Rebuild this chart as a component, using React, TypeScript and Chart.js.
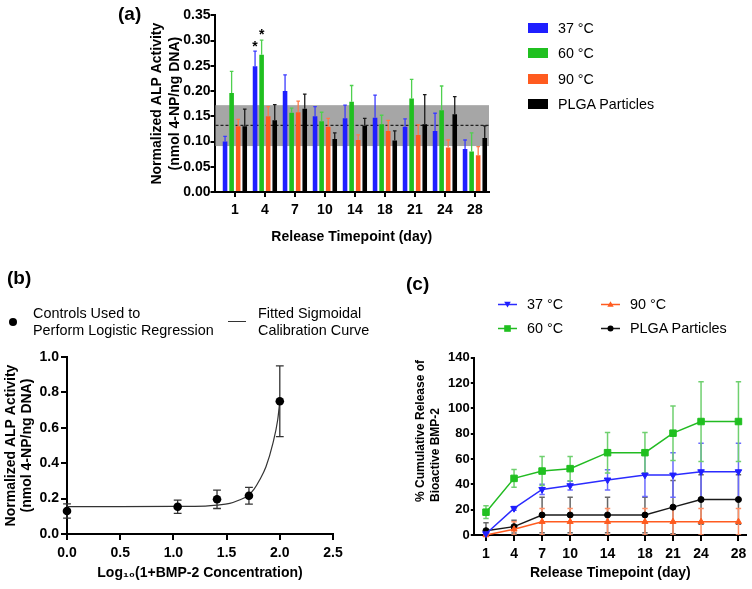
import React, { useEffect, useRef } from 'react';
import { Chart, registerables } from 'chart.js';

Chart.register(...registerables);

const FONT = "'Liberation Sans', Arial, Helvetica, sans-serif";
Chart.defaults.font.family = FONT;
Chart.defaults.color = '#000';

// ---------- Panel (a) data ----------
const dayLabels = ['1', '4', '7', '10', '14', '18', '21', '24', '28'];
const seriesNames = ['37 °C', '60 °C', '90 °C', 'PLGA Particles'];
const alp37 = [0.100, 0.249, 0.200, 0.150, 0.146, 0.147, 0.129, 0.121, 0.085];
const alp37Err = [0.010, 0.030, 0.032, 0.019, 0.026, 0.045, 0.016, 0.035, 0.018];
const alp60 = [0.196, 0.272, 0.157, 0.140, 0.179, 0.134, 0.185, 0.162, 0.080];
const alp60Err = [0.043, 0.029, 0.009, 0.018, 0.032, 0.018, 0.038, 0.048, 0.037];
const alp90 = [0.130, 0.150, 0.158, 0.129, 0.103, 0.121, 0.113, 0.088, 0.073];
const alp90Err = [0.014, 0.019, 0.022, 0.017, 0.010, 0.021, 0.020, 0.015, 0.017];
const alpPLGA = [0.130, 0.142, 0.165, 0.105, 0.131, 0.102, 0.134, 0.154, 0.107];
const alpPLGAErr = [0.034, 0.031, 0.029, 0.012, 0.015, 0.019, 0.059, 0.035, 0.024];
const bandLow = 0.091;
const bandHigh = 0.172;
const controlMean = 0.132;
const starMarks = [{ series: 0, index: 1 }, { series: 1, index: 1 }];

// ---------- Panel (b) data ----------
const calX = [0, 1.04, 1.41, 1.71, 2.0];
const calY = [0.13, 0.154, 0.196, 0.216, 0.75];
const calErr = [0.04, 0.037, 0.052, 0.047, 0.2];
const fitX = [0, 0.5, 1.0, 1.3, 1.41, 1.53, 1.62, 1.7, 1.76, 1.81, 1.87, 1.935, 1.98, 2.0];
const fitY = [0.155, 0.155, 0.156, 0.158, 0.163, 0.173, 0.192, 0.216, 0.255, 0.305, 0.38, 0.512, 0.644, 0.75];

// ---------- Panel (c) data ----------
const releaseDays = [1, 4, 7, 10, 14, 18, 21, 24, 28];
const rel37 = [1, 21, 36, 39, 43.5, 47.4, 47.4, 50, 50];
const rel37Err = [1, 1.5, 4, 3.5, 8, 17, 17.5, 22.5, 22.5];
const rel60 = [18, 44.7, 50.5, 52.4, 65, 65, 80.4, 89.6, 89.6];
const rel60Err = [5, 7, 11.5, 9.5, 16, 16, 21.5, 31.5, 31.5];
const rel90 = [0, 4.5, 10.5, 10.5, 10.5, 10.5, 10.5, 10.5, 10.5];
const rel90Err = [0, 6, 10.5, 10.5, 10.5, 10.5, 10.5, 10.5, 10.5];
const relPLGA = [3.4, 6.6, 15.8, 15.8, 15.8, 15.8, 22, 28, 28];
const relPLGAErr = [6.3, 5, 14, 14, 14, 14, 21, 19.5, 19.5];

const barColors = ['#1f1fff', '#20c020', '#ff5b1f', '#000000'];
const barErrColors = ['#3b3bff', '#4fd04f', '#ff7a48', '#1a1a1a'];
const lineColors = ['#2b2bff', '#22bb22', '#ff5b1f', '#1a1a1a'];
const lineErrColors = ['#6a6aff', '#6fd06f', '#ff8f66', '#666666'];

const axisGrid = (len: number) => ({
  display: true,
  drawOnChartArea: false,
  drawTicks: true,
  tickLength: len,
  tickColor: '#000',
  lineWidth: 2,
  offset: false,
});
const axisBorder = { display: true, color: '#000', width: 2 };
const boldFont = (size: number, lh = 1.2) => ({ size, weight: 'bold' as const, lineHeight: lh, family: FONT });

function makeChartA() {
  const series = [alp37, alp60, alp90, alpPLGA];
  const errs = [alp37Err, alp60Err, alp90Err, alpPLGAErr];
  const bandPlugin = {
    id: 'band',
    beforeDatasetsDraw(chart: any) {
      const { ctx, chartArea } = chart;
      const y = chart.scales.y;
      ctx.save();
      ctx.fillStyle = '#a6a6a6';
      const t = y.getPixelForValue(bandHigh);
      const b = y.getPixelForValue(bandLow);
      ctx.fillRect(chartArea.left + 1, t, chartArea.right - chartArea.left - 1, b - t);
      ctx.setLineDash([3, 2]);
      ctx.strokeStyle = '#222';
      ctx.lineWidth = 1.3;
      const m = y.getPixelForValue(controlMean);
      ctx.beginPath();
      ctx.moveTo(chartArea.left + 1, m);
      ctx.lineTo(chartArea.right, m);
      ctx.stroke();
      ctx.restore();
    },
  };
  const errPlugin = {
    id: 'errA',
    afterDatasetsDraw(chart: any) {
      const { ctx } = chart;
      const y = chart.scales.y;
      ctx.save();
      series.forEach((vals, s) => {
        const meta = chart.getDatasetMeta(s);
        meta.data.forEach((bar: any, i: number) => {
          const top = y.getPixelForValue(vals[i] + errs[s][i]);
          ctx.strokeStyle = barErrColors[s];
          ctx.lineWidth = 1.3;
          ctx.beginPath();
          ctx.moveTo(bar.x, bar.y);
          ctx.lineTo(bar.x, top);
          ctx.moveTo(bar.x - 1.8, top);
          ctx.lineTo(bar.x + 1.8, top);
          ctx.stroke();
        });
      });
      ctx.fillStyle = '#000';
      ctx.font = `bold 14px ${FONT}`;
      ctx.textAlign = 'center';
      ctx.textBaseline = 'middle';
      starMarks.forEach(({ series: s, index: i }) => {
        const bar: any = chart.getDatasetMeta(s).data[i];
        const top = y.getPixelForValue(series[s][i] + errs[s][i]);
        ctx.fillText('*', bar.x, top - 4.5);
      });
      ctx.restore();
    },
  };
  return {
    type: 'bar',
    data: {
      datasets: series.map((vals, s) => ({
        label: seriesNames[s],
        data: vals.map((v, i) => ({ x: i, y: v })),
        backgroundColor: barColors[s],
        borderWidth: 0,
        categoryPercentage: 0.875,
        barPercentage: 0.7,
      })),
    },
    options: {
      animation: false,
      responsive: false,
      events: [],
      layout: { padding: { left: 148, top: 15.3, right: 752 - 489, bottom: 589 - 245.4 } },
      plugins: { legend: { display: false }, tooltip: { enabled: false } },
      scales: {
        x: {
          type: 'linear',
          min: -0.68,
          max: 8.47,
          offset: false,
          afterBuildTicks: (s: any) => {
            s.ticks = dayLabels.map((_, i) => ({ value: i }));
          },
          afterFit: (s: any) => {
            s.height = 245.4 - 192;
            s.paddingLeft = 0;
            s.paddingRight = 0;
          },
          ticks: {
            autoSkip: false,
            maxRotation: 0,
            padding: 5,
            font: boldFont(14),
            callback: (v: any) => dayLabels[Math.round(Number(v))],
          },
          grid: axisGrid(5),
          border: axisBorder,
          title: { display: true, text: 'Release Timepoint (day)', font: boldFont(14), padding: 0 },
        },
        y: {
          min: 0,
          max: 0.35,
          afterFit: (s: any) => {
            s.width = 214.5 - 148;
          },
          ticks: { stepSize: 0.05, padding: 0, font: boldFont(14), callback: (v: any) => Number(v).toFixed(2) },
          grid: axisGrid(4),
          border: axisBorder,
          title: {
            display: true,
            text: ['Normalized ALP Activity', '(nmol 4-NP/ng DNA)'],
            font: boldFont(14, 18 / 14),
            padding: 0,
          },
        },
      },
    },
    plugins: [bandPlugin, errPlugin],
  };
}

function makeChartB() {
  const errPlugin = {
    id: 'errB',
    beforeDatasetsDraw(chart: any) {
      const { ctx } = chart;
      const x = chart.scales.x;
      const y = chart.scales.y;
      ctx.save();
      ctx.strokeStyle = '#333';
      ctx.lineWidth = 1.3;
      calX.forEach((cx, i) => {
        const px = x.getPixelForValue(cx);
        const hi = y.getPixelForValue(calY[i] + calErr[i]);
        const lo = y.getPixelForValue(calY[i] - calErr[i]);
        ctx.beginPath();
        ctx.moveTo(px, hi);
        ctx.lineTo(px, lo);
        ctx.moveTo(px - 3.9, hi);
        ctx.lineTo(px + 3.9, hi);
        ctx.moveTo(px - 3.9, lo);
        ctx.lineTo(px + 3.9, lo);
        ctx.stroke();
      });
      ctx.restore();
    },
  };
  return {
    type: 'scatter',
    data: {
      datasets: [
        {
          label: 'Controls Used to Perform Logistic Regression',
          data: calX.map((x, i) => ({ x, y: calY[i] })),
          pointRadius: 4.3,
          pointBackgroundColor: '#000',
          pointBorderColor: '#000',
          pointBorderWidth: 0,
          showLine: false,
          clip: false,
        },
        {
          label: 'Fitted Sigmoidal Calibration Curve',
          data: fitX.map((x, i) => ({ x, y: fitY[i] })),
          pointRadius: 0,
          showLine: true,
          borderColor: '#333',
          borderWidth: 1.2,
          cubicInterpolationMode: 'monotone',
          clip: false,
        },
      ],
    },
    options: {
      animation: false,
      responsive: false,
      events: [],
      layout: { padding: { left: 3, top: 357, right: 752 - 333, bottom: 589 - 581.4 } },
      plugins: { legend: { display: false }, tooltip: { enabled: false } },
      scales: {
        x: {
          type: 'linear',
          min: 0,
          max: 2.5,
          afterFit: (s: any) => {
            s.height = 581.4 - 534;
            s.paddingLeft = 0;
            s.paddingRight = 0;
          },
          ticks: { stepSize: 0.5, padding: 5, maxRotation: 0, font: boldFont(14), callback: (v: any) => Number(v).toFixed(1) },
          grid: axisGrid(6),
          border: axisBorder,
          title: { display: true, text: 'Log₁₀(1+BMP-2 Concentration)', font: boldFont(14), padding: 0 },
        },
        y: {
          min: 0,
          max: 1.0,
          afterFit: (s: any) => {
            s.width = 67 - 3;
          },
          ticks: { stepSize: 0.2, padding: 2, font: boldFont(14), callback: (v: any) => Number(v).toFixed(1) },
          grid: axisGrid(6),
          border: axisBorder,
          title: {
            display: true,
            text: ['Normalized ALP Activity', '(nmol 4-NP/ng DNA)'],
            font: boldFont(14, 16 / 14),
            padding: 0,
          },
        },
      },
    },
    plugins: [errPlugin],
  };
}

function makeChartC() {
  const series = [rel37, rel60, rel90, relPLGA];
  const errs = [rel37Err, rel60Err, rel90Err, relPLGAErr];
  const styles = ['triangle', 'rect', 'triangle', 'circle'];
  const radii = [3.8, 4.6, 3.5, 3];
  const rotations = [180, 0, 0, 0];
  const errPlugin = {
    id: 'errC',
    beforeDatasetsDraw(chart: any) {
      const { ctx, chartArea } = chart;
      const x = chart.scales.x;
      const y = chart.scales.y;
      ctx.save();
      ctx.beginPath();
      ctx.rect(chartArea.left, chartArea.top - 10, chartArea.right - chartArea.left + 10, chartArea.bottom - chartArea.top + 10);
      ctx.clip();
      ctx.lineWidth = 1.5;
      [3, 2, 0, 1].forEach((s) => {
        ctx.strokeStyle = lineErrColors[s];
        series[s].forEach((v, i) => {
          const e = errs[s][i];
          if (!e) return;
          const px = x.getPixelForValue(releaseDays[i]);
          const hi = y.getPixelForValue(v + e);
          const lo = y.getPixelForValue(Math.max(v - e, 0));
          ctx.beginPath();
          ctx.moveTo(px, hi);
          ctx.lineTo(px, lo);
          ctx.moveTo(px - 2.7, hi);
          ctx.lineTo(px + 2.7, hi);
          ctx.moveTo(px - 2.7, lo);
          ctx.lineTo(px + 2.7, lo);
          ctx.stroke();
        });
      });
      ctx.restore();
    },
  };
  return {
    type: 'line',
    data: {
      datasets: series.map((vals, s) => ({
        label: seriesNames[s],
        data: vals.map((v, i) => ({ x: releaseDays[i], y: v })),
        borderColor: lineColors[s],
        backgroundColor: lineColors[s],
        borderWidth: 1.5,
        pointStyle: styles[s],
        pointRadius: radii[s],
        pointRotation: rotations[s],
        pointBackgroundColor: barColors[s],
        pointBorderColor: barColors[s],
        pointBorderWidth: 1,
        tension: 0,
        fill: false,
        clip: false,
      })),
    },
    options: {
      animation: false,
      responsive: false,
      events: [],
      layout: { padding: { left: 400, top: 357.7, right: 752 - 748, bottom: 589 - 581.4 } },
      plugins: { legend: { display: false }, tooltip: { enabled: false } },
      scales: {
        x: {
          type: 'linear',
          min: -0.25,
          max: 28.85,
          afterBuildTicks: (s: any) => {
            s.ticks = releaseDays.map((d) => ({ value: d }));
          },
          afterFit: (s: any) => {
            s.height = 581.4 - 535;
            s.paddingLeft = 0;
            s.paddingRight = 0;
          },
          ticks: { autoSkip: false, maxRotation: 0, padding: 5, font: boldFont(14), callback: (v: any) => String(v) },
          grid: axisGrid(6),
          border: axisBorder,
          title: { display: true, text: 'Release Timepoint (day)', font: boldFont(14), padding: 0 },
        },
        y: {
          min: 0,
          max: 140,
          afterFit: (s: any) => {
            s.width = 474.3 - 400;
          },
          ticks: { stepSize: 20, padding: 1, font: boldFont(13) },
          grid: axisGrid(3.5),
          border: axisBorder,
          title: { display: false },
        },
      },
    },
    plugins: [errPlugin],
  };
}

function PanelChart({ make }: { make: () => any }) {
  const ref = useRef<HTMLCanvasElement | null>(null);
  useEffect(() => {
    if (!ref.current) return;
    const chart = new Chart(ref.current, make());
    return () => chart.destroy();
  }, [make]);
  return (
    <canvas
      ref={ref}
      width={752}
      height={589}
      style={{ position: 'absolute', left: 0, top: 0, width: 752, height: 589 }}
    />
  );
}

function Txt({ x, y, size, bold, children }: { x: number; y: number; size: number; bold?: boolean; children: any }) {
  return (
    <div
      style={{
        position: 'absolute',
        left: x,
        top: y,
        transform: 'translateY(-50%)',
        fontSize: size,
        fontWeight: bold ? 'bold' : 'normal',
        lineHeight: 1.15,
        whiteSpace: 'nowrap',
        fontFamily: FONT,
        color: '#000',
      }}
    >
      {children}
    </div>
  );
}

function LineMarker({ x, y, s }: { x: number; y: number; s: number }) {
  const c = barColors[s];
  let marker: any = null;
  if (s === 0) marker = <polygon points="6.5,8.5 3.2,2.8 9.8,2.8" fill={c} />;
  if (s === 1) marker = <rect x={3.2} y={2.2} width={6.6} height={6.6} fill={c} />;
  if (s === 2) marker = <polygon points="6.5,2.3 3.3,7.8 9.7,7.8" fill={c} />;
  if (s === 3) marker = <circle cx={6.5} cy={5.5} r={3} fill={c} />;
  return (
    <svg width={20} height={11} style={{ position: 'absolute', left: x, top: y - 5.5 }}>
      <line x1={0} y1={5.5} x2={19} y2={5.5} stroke={lineColors[s]} strokeWidth={1.5} />
      <g transform="translate(3,0)">{marker}</g>
    </svg>
  );
}

export default function App() {
  const legendARows = [28.3, 53.3, 79.3, 104.3];
  return (
    <div
      style={{
        position: 'absolute',
        left: 0,
        top: 0,
        width: 752,
        height: 589,
        overflow: 'hidden',
        background: '#fff',
        fontFamily: FONT,
      }}
    >
      <PanelChart make={makeChartA} />
      <PanelChart make={makeChartB} />
      <PanelChart make={makeChartC} />

      {/* Panel labels */}
      <Txt x={118} y={13.5} size={19} bold>(a)</Txt>
      <Txt x={7} y={278} size={19} bold>(b)</Txt>
      <Txt x={406} y={283.5} size={19} bold>(c)</Txt>

      {/* Legend (a) */}
      {seriesNames.map((n, i) => (
        <React.Fragment key={n}>
          <div
            style={{
              position: 'absolute',
              left: 528,
              top: legendARows[i] - 5,
              width: 20,
              height: 10,
              background: barColors[i],
            }}
          />
          <Txt x={558} y={legendARows[i]} size={14.3}>{n}</Txt>
        </React.Fragment>
      ))}

      {/* Legend (b) */}
      <div
        style={{
          position: 'absolute',
          left: 8.7,
          top: 317.7,
          width: 8,
          height: 8,
          borderRadius: '50%',
          background: '#000',
        }}
      />
      <Txt x={33} y={313} size={14.4}>Controls Used to</Txt>
      <Txt x={33} y={330} size={14.4}>Perform Logistic Regression</Txt>
      <div style={{ position: 'absolute', left: 228, top: 321, width: 18, height: 1.3, background: '#333' }} />
      <Txt x={258} y={313} size={14.4}>Fitted Sigmoidal</Txt>
      <Txt x={258} y={330} size={14.4}>Calibration Curve</Txt>

      {/* Legend (c) */}
      <LineMarker x={498} y={304} s={0} />
      <Txt x={527} y={304} size={14.4}>{seriesNames[0]}</Txt>
      <LineMarker x={600.5} y={304} s={2} />
      <Txt x={630} y={304} size={14.4}>{seriesNames[2]}</Txt>
      <LineMarker x={498} y={328.3} s={1} />
      <Txt x={527} y={328.3} size={14.4}>{seriesNames[1]}</Txt>
      <LineMarker x={600.5} y={328.3} s={3} />
      <Txt x={630} y={328.3} size={14.4}>{seriesNames[3]}</Txt>

      {/* Y title (c), start-aligned lines */}
      <div
        style={{
          position: 'absolute',
          left: 413.2,
          top: 502,
          transform: 'rotate(-90deg)',
          transformOrigin: 'left top',
          fontSize: 12,
          fontWeight: 'bold',
          lineHeight: '15px',
          whiteSpace: 'nowrap',
          fontFamily: FONT,
          textAlign: 'left',
        }}
      >
        <div>% Cumulative Release of</div>
        <div>Bioactive BMP-2</div>
      </div>
    </div>
  );
}
